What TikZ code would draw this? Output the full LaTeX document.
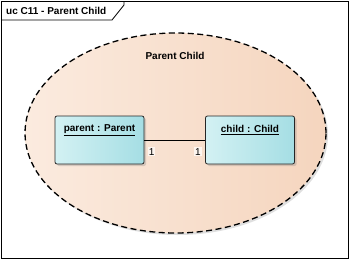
\documentclass[tikz,border=0pt]{standalone}
\usepackage{fontspec}
\setmainfont{Liberation Sans}
\usetikzlibrary{shadows,shapes.geometric}
\definecolor{peachL}{HTML}{FBEBDF}
\definecolor{peachR}{HTML}{F5D5BE}
\definecolor{cyanL}{HTML}{D3F1F3}
\definecolor{cyanR}{HTML}{A5DEE4}
\begin{document}
\begin{tikzpicture}[x=1pt,y=-1pt,
  every node/.style={font=\fontsize{10}{12}\selectfont\bfseries, inner sep=0pt},
  frameline/.style={draw=black, line width=0.8pt},
  regionshape/.style={ellipse, draw=black, line width=1.3pt, dash pattern=on 6pt off 3.5pt,
    left color=peachL, right color=peachR, minimum width=301pt, minimum height=200pt,
    drop shadow={shadow xshift=2pt, shadow yshift=-2pt, opacity=0.25}},
  objbox/.style={draw=black!85, line width=0.8pt, rounded corners=2pt,
    left color=cyanL, right color=cyanR, minimum width=89pt, minimum height=48pt,
    drop shadow={shadow xshift=2pt, shadow yshift=-2pt, opacity=0.3}},
  multlabel/.style={font=\fontsize{10}{12}\selectfont, fill=peachL!50!white, inner sep=1pt}]
  \useasboundingbox (0,0) rectangle (350,260);
  % diagram frame with its name tab
  \fill[white] (0,0) rectangle (350,260);
  \draw[frameline] (1,1) rectangle (348,258.5);
  \draw[frameline] (1,20) -- (112,20) -- (124,5) -- (124,1);
  \node[anchor=west] (frametitle) at (6,11) {uc C11 - Parent Child};
  % use case region
  \node[regionshape] (region) at (175.5,133) {};
  \node (regiontitle) at (175,56) {Parent Child};
  % object instances
  \node[objbox] (parent) at (99.5,140) {};
  \node[objbox] (child) at (250,140) {};
  \node (parentname) at (99.5,130) {\underline{parent : Parent}};
  \node (childname) at (250,130) {\underline{child : Child}};
  % link between the instances
  \draw[line width=0.8pt] (parent.east) -- (child.west)
    node[multlabel, pos=0, anchor=north west, xshift=3pt, yshift=-7pt] (m1) {1}
    node[multlabel, pos=1, anchor=north east, xshift=-3pt, yshift=-7pt] (m2) {1};
\end{tikzpicture}
\end{document}
